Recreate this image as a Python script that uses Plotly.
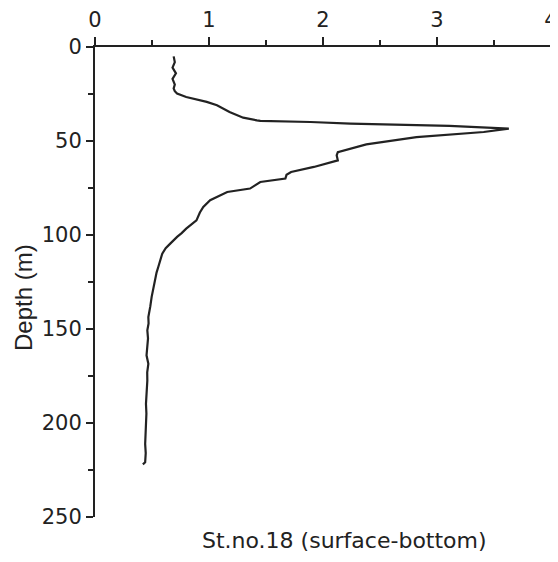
import plotly.graph_objects as go

depth = [5, 8, 11, 14, 17, 20, 22, 23.5, 24.8, 26.6, 29.2, 31, 34.6, 37.6, 39, 39.3, 39.9,
         40.8, 42, 42.9, 43.4, 45.2, 47.9, 51.8, 55.9, 57.6, 60.3, 63.8, 66.5, 68, 70, 71.8,
         75.3, 77.1, 81.5, 85.1, 88, 92.2, 94, 96.6, 99, 101, 104.6, 107, 109.9, 113.4, 117,
         120, 124, 128, 132.9, 138, 143.6, 147, 150.7, 155, 159.6, 164, 168.5, 173, 177.4,
         183, 189.8, 195, 200.5, 206, 211.1, 216, 220.9, 222]
value = [0.69, 0.70, 0.68, 0.71, 0.68, 0.70, 0.69, 0.70, 0.72, 0.80, 0.98, 1.07, 1.18, 1.30, 1.42,
         1.45, 1.89, 2.24, 3.11, 3.46, 3.63, 3.41, 2.82, 2.38, 2.13, 2.12, 2.13, 1.92, 1.72, 1.68,
         1.67, 1.45, 1.36, 1.16, 1.01, 0.95, 0.92, 0.89, 0.85, 0.80, 0.76, 0.72, 0.66, 0.62, 0.59,
         0.57, 0.555, 0.54, 0.526, 0.51, 0.497, 0.485, 0.468, 0.47, 0.459, 0.465, 0.46, 0.452,
         0.468, 0.458, 0.459, 0.452, 0.447, 0.451, 0.447, 0.443, 0.44, 0.445, 0.44, 0.42]

x_ticks = [0, 1, 2, 3, 4]
y_ticks = [0, 50, 100, 150, 200, 250]
title_text = "St.no.18 (surface-bottom)"
y_title = "Depth (m)"

fig = go.Figure()
fig.add_trace(go.Scatter(x=value, y=depth, mode="lines",
                         line=dict(color="#222222", width=2.2), showlegend=False))

tickfont = dict(family="DejaVu Sans", size=21, color="#222222")
fig.update_layout(
    width=550, height=554,
    margin=dict(l=87, r=7, t=39, b=45),
    paper_bgcolor="white", plot_bgcolor="white",
    xaxis=dict(range=[0, 4], side="top", tickvals=x_ticks, ticks="outside", ticklen=8,
               tickwidth=1.5, tickcolor="#222222", showline=True, linecolor="#222222",
               linewidth=2, showgrid=False, zeroline=False, tickfont=tickfont,
               automargin=False,
               minor=dict(dtick=0.5, ticks="outside", ticklen=5, tickcolor="#222222",
                          tickwidth=1.5),
               ticklabelstandoff=2),
    yaxis=dict(range=[250, 0], tickvals=y_ticks, ticks="outside", ticklen=7,
               tickwidth=1.5, tickcolor="#222222", showline=True, linecolor="#222222",
               linewidth=2, showgrid=False, zeroline=False, tickfont=tickfont,
               automargin=False,
               minor=dict(dtick=25, ticks="outside", ticklen=5, tickcolor="#222222",
                          tickwidth=1.5)),
    annotations=[
        dict(text=title_text, xref="paper", yref="paper", x=0.548, y=-0.049,
             xanchor="center", yanchor="middle", showarrow=False,
             font=dict(family="DejaVu Sans", size=22, color="#222222")),
        dict(text=y_title, xref="paper", yref="paper", x=-0.158, y=0.468,
             xanchor="center", yanchor="middle", showarrow=False, textangle=-90,
             font=dict(family="Liberation Sans", size=24, color="#222222")),
    ],
)
fig.write_html("out.html")
